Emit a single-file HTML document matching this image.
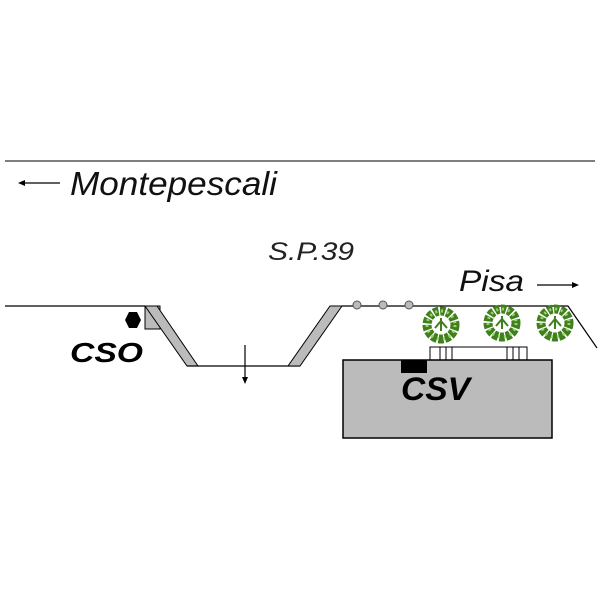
<!DOCTYPE html>
<html><head><style>body{margin:0;background:#fff}svg{display:block}</style></head><body>
<svg width="600" height="600" viewBox="0 0 600 600" xmlns="http://www.w3.org/2000/svg" font-family="Liberation Sans, sans-serif">
<defs>
<g id="tree">
<circle r="14" fill="none" stroke="#3f7f1c" stroke-width="9" stroke-dasharray="5 1.5"/>
<circle r="14" fill="none" stroke="#9cd070" stroke-width="3" stroke-dasharray="2 4"/>
<path d="M0,-7 L0,6 M-6,3 L0,-4 L6,3" stroke="#3f7f1c" stroke-width="2" fill="none"/>
</g>
</defs>
<line x1="5" y1="161" x2="595" y2="161" stroke="#555" stroke-width="1.5"/>
<line x1="22" y1="183" x2="60" y2="183" stroke="#000" stroke-width="1.2"/>
<path d="M18,183 L25,180 L25,186Z" fill="#000"/>
<text x="70" y="195" font-size="33" font-style="italic" fill="#111" textLength="207" lengthAdjust="spacingAndGlyphs">Montepescali</text>
<text x="268" y="260" font-size="25" font-style="italic" fill="#222" textLength="86" lengthAdjust="spacingAndGlyphs">S.P.39</text>
<text x="459" y="291" font-size="30" font-style="italic" fill="#111" textLength="65" lengthAdjust="spacingAndGlyphs">Pisa</text>
<line x1="537" y1="285" x2="574" y2="285" stroke="#000" stroke-width="1.2"/>
<path d="M579,285 L572,282 L572,288Z" fill="#000"/>
<polyline points="5,306 145,306" stroke="#000" stroke-width="1.2" fill="none"/>
<rect x="145" y="306" width="15" height="23" fill="#bbb" stroke="#000" stroke-width="1"/>
<polygon points="145,306 157,306 198,366 187,366" fill="#bbb" stroke="#000" stroke-width="1"/>
<line x1="187" y1="366" x2="300" y2="366" stroke="#000" stroke-width="1.2"/>
<polygon points="288,366 300,366 342,306 330,306" fill="#bbb" stroke="#000" stroke-width="1"/>
<polyline points="342,306 568,306 597,348" stroke="#000" stroke-width="1.2" fill="none"/>
<line x1="245" y1="345" x2="245" y2="380" stroke="#000" stroke-width="1.2"/>
<path d="M245,384 L242,377 L248,377Z" fill="#000"/>
<polygon points="129,312 137,312 141,320 137,328 129,328 125,320" fill="#000"/>
<circle cx="357" cy="305" r="4" fill="#bbb" stroke="#555"/>
<circle cx="383" cy="305" r="4" fill="#bbb" stroke="#555"/>
<circle cx="409" cy="305" r="4" fill="#bbb" stroke="#555"/>
<use href="#tree" x="441" y="325"/>
<use href="#tree" x="502" y="323"/>
<use href="#tree" x="555" y="323"/>
<rect x="430" y="347" width="97" height="13" fill="#fff" stroke="#000" stroke-width="1"/>
<path d="M440,347V360M446,347V360M452,347V360M507,347V360M513,347V360M519,347V360" stroke="#000" stroke-width="1"/>
<rect x="343" y="360" width="209" height="78" fill="#bbb" stroke="#000" stroke-width="1.5"/>
<rect x="401" y="360" width="26" height="13" fill="#000"/>
<text x="70" y="362" font-size="28" font-weight="bold" font-style="italic" fill="#000" textLength="73" lengthAdjust="spacingAndGlyphs">CSO</text>
<text x="401" y="400" font-size="32" font-weight="bold" font-style="italic" fill="#000" textLength="69" lengthAdjust="spacingAndGlyphs">CSV</text>
</svg>
</body></html>
